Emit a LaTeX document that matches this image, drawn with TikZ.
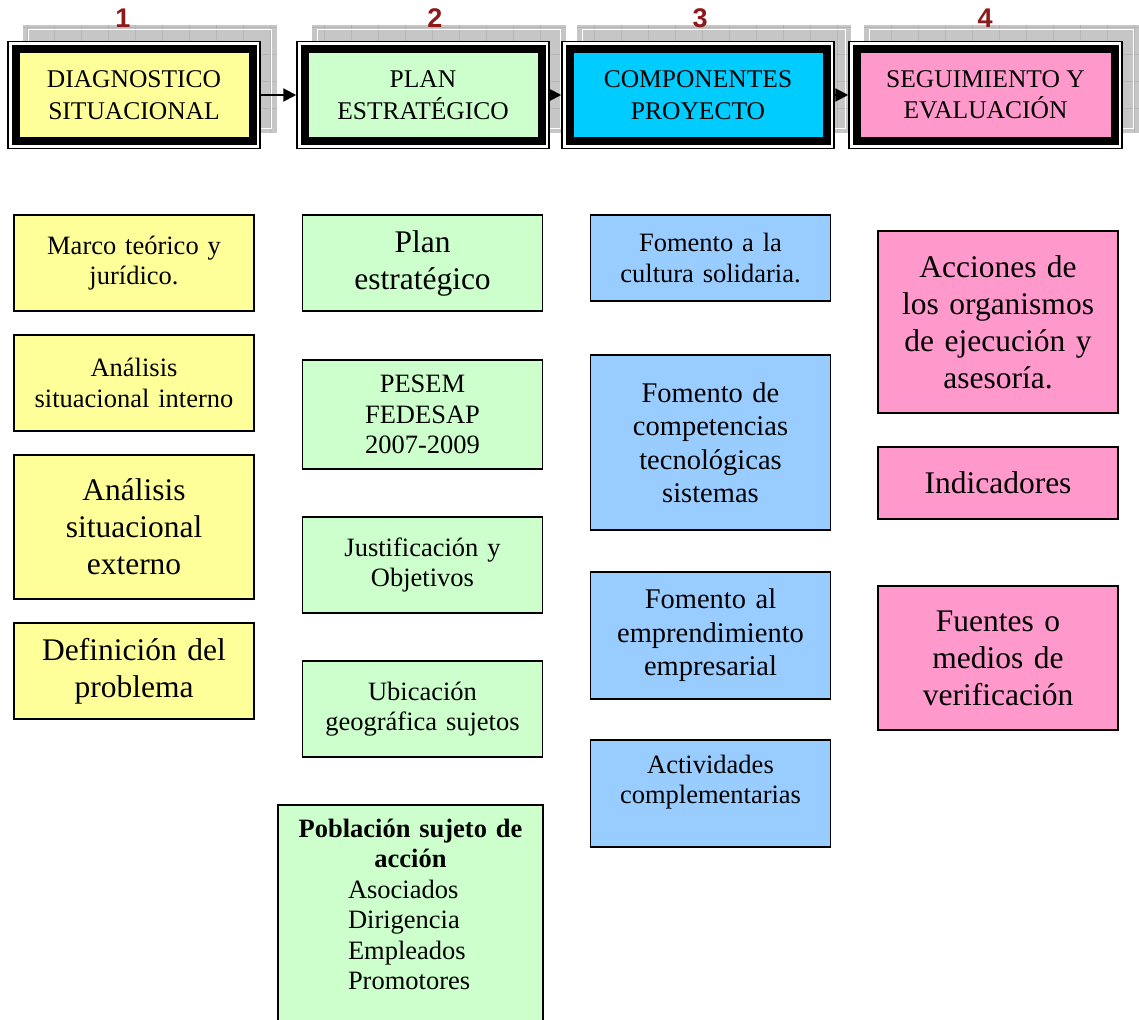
\documentclass[tikz,border=0pt]{standalone}
\usepackage{fontspec}
\setmainfont{Liberation Serif}
\newfontfamily\numfont{Liberation Sans}
\usetikzlibrary{positioning,arrows.meta,fit,backgrounds}

\definecolor{amarillo}{HTML}{FFFF99}
\definecolor{verde}{HTML}{CCFFCC}
\definecolor{celeste}{HTML}{00CCFF}
\definecolor{azul}{HTML}{99CCFF}
\definecolor{rosa}{HTML}{FF99CC}
\definecolor{granate}{RGB}{140,26,26}

\newcommand{\letracab}{\fontsize{25.5}{31.5}\selectfont}
\newcommand{\chica}{\fontsize{26.5}{30.5}\selectfont}
\newcommand{\media}{\fontsize{28.5}{33.5}\selectfont}
\newcommand{\grande}{\fontsize{31.5}{37}\selectfont}
\newcommand{\letranum}{\numfont\bfseries\fontsize{27}{27}\selectfont}

\begin{document}
\begin{tikzpicture}[
    x=1pt, y=-1pt,
    cab/.style={draw, line width=8pt, outer sep=4pt, minimum height=92pt, align=center, font=\letracab, preaction={draw=white, line width=15pt}},
    marco/.style={draw, line width=1.5pt, inner sep=3.5pt},
    caja/.style={draw, line width=1.5pt, outer sep=0pt, minimum width=240pt, text width=230pt, align=center},
    num/.style={font=\letranum, text=granate},
    flecha/.style={-{Triangle[length=13pt,width=13pt]}, line width=2pt}
]
\useasboundingbox (0,0) rectangle (1139,1019);
\clip (0,0) rectangle (1139,1019);

% Cabecera (izquierda -> derecha)
\node[cab, fill=amarillo, minimum width=237pt] (diag) at (134,95) {DIAGNOSTICO\\SITUACIONAL};
\node[cab, fill=verde, minimum width=237pt] (plan) at (423,95) {PLAN\\ESTRATÉGICO};
\node[cab, fill=celeste, minimum width=257pt] (comp) at (698,95) {COMPONENTES\\PROYECTO};
\node[cab, fill=rosa, minimum width=258pt] (segu) at (985.5,95) {SEGUIMIENTO Y\\EVALUACIÓN};

\node[marco, fit=(diag)] (diagm) {};
\node[marco, fit=(plan)] (planm) {};
\node[marco, fit=(comp)] (compm) {};
\node[marco, fit=(segu)] (segum) {};

\node[num] (n1) at (123,18) {1};
\node[num] (n2) at (435,18) {2};
\node[num] (n3) at (700,18) {3};
\node[num] (n4) at (985,18) {4};

% sombras cuadriculadas
\begin{scope}[on background layer]
\foreach \m in {diagm,planm,compm,segum}{
    \coordinate (a) at ([shift={(16pt,16pt)}]\m.south west);
    \coordinate (b) at ([shift={(16pt,16pt)}]\m.north east);
    \fill[gray!45] (a) rectangle (b);
    \draw[gray!58, line width=0.5pt, step=27pt] (a) grid (b);
    \draw[white, line width=1pt] ([shift={(5pt,5pt)}]a) rectangle ([shift={(-5pt,-5pt)}]b);
}
\end{scope}

\draw[flecha] (diagm) -- (planm);
\draw[flecha] (planm) -- (compm);
\draw[flecha] (compm) -- (segum);

% Columna 1
\node[caja, fill=amarillo, minimum height=96pt, font=\chica, anchor=north] (mteorico) at (134,215) {Marco teórico y\\jurídico.};
\node[caja, fill=amarillo, minimum height=96pt, font=\chica, below=24pt of mteorico] (ainterno) {Análisis\\situacional interno};
\node[caja, fill=amarillo, minimum height=144pt, font=\grande, below=24pt of ainterno] (aexterno) {Análisis\\situacional\\externo};
\node[caja, fill=amarillo, minimum height=96pt, font=\grande, below=24pt of aexterno] (defprob) {Definición del\\problema};

% Columna 2
\node[caja, fill=verde, minimum height=96pt, font=\grande, anchor=north] (pestrat) at (422.5,215) {Plan\\estratégico};
\node[caja, fill=verde, minimum height=109pt, font=\chica, below=49pt of pestrat] (pesem) {PESEM\\FEDESAP\\2007-2009};
\node[caja, fill=verde, minimum height=96pt, font=\chica, below=48pt of pesem] (justif) {Justificación y\\Objetivos};
\node[caja, fill=verde, minimum height=96pt, font=\chica, below=48pt of justif] (ubic) {Ubicación\\geográfica sujetos};
\node[caja, fill=verde, minimum width=265pt, text width=255pt, font=\chica, inner ysep=14pt, text depth=200pt, below=48pt of ubic, xshift=-12pt] (poblac) {\textbf{Población sujeto de}\\\textbf{acción}\\\makebox[125pt][l]{Asociados}\\\makebox[125pt][l]{Dirigencia}\\\makebox[125pt][l]{Empleados}\\\makebox[125pt][l]{Promotores}};

% Columna 3
\node[caja, fill=azul, minimum height=86pt, font=\chica, anchor=north] (cultura) at (710.5,215) {Fomento a la\\cultura solidaria.};
\node[caja, fill=azul, minimum height=175pt, font=\media, below=54pt of cultura] (compet) {Fomento de\\competencias\\tecnológicas\\sistemas};
\node[caja, fill=azul, minimum height=127pt, font=\media, below=42pt of compet] (emprend) {Fomento al\\emprendimiento\\empresarial};
\node[caja, fill=azul, minimum height=107pt, font=\chica, text depth=59pt, below=41pt of emprend] (activ) {Actividades\\complementarias};

% Columna 4
\node[caja, fill=rosa, minimum height=182pt, font=\grande, anchor=north] (acciones) at (998,231) {Acciones de\\los organismos\\de ejecución y\\asesoría.};
\node[caja, fill=rosa, minimum height=72pt, font=\grande, below=34pt of acciones] (indic) {Indicadores};
\node[caja, fill=rosa, minimum height=144pt, font=\grande, below=67pt of indic] (fuentes) {Fuentes o\\medios de\\verificación};

\end{tikzpicture}
\end{document}
